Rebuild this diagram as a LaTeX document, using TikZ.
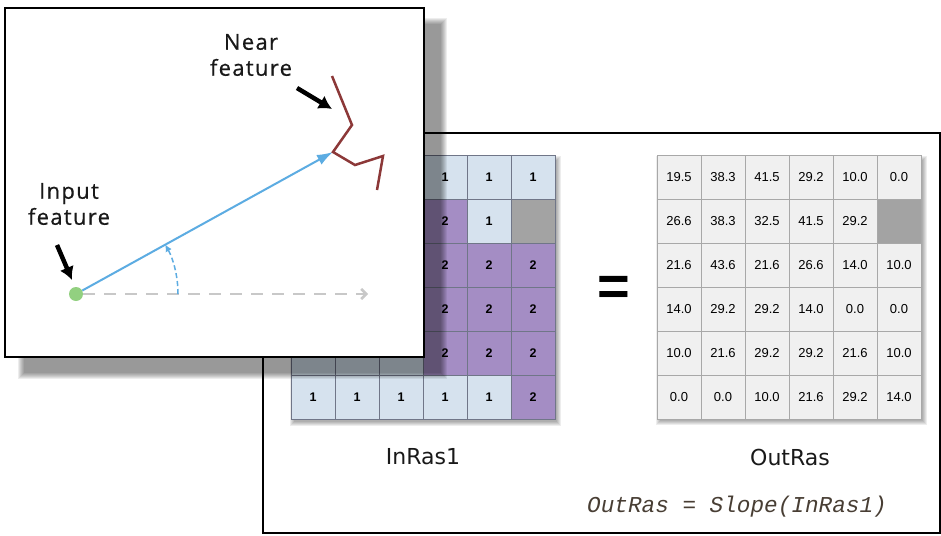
\documentclass[tikz,border=0pt]{standalone}
\usepackage{fontspec}
\setmainfont{DejaVu Sans}
\newfontfamily\featfont[LetterSpace=6,FakeBold=0.6]{Open Sans}
\newfontfamily\cellfont{Liberation Sans}
\newfontfamily\codefont{Liberation Mono}
\usetikzlibrary{positioning,arrows.meta,calc}
\definecolor{rasblue}{RGB}{214,226,238}
\definecolor{raspurple}{RGB}{164,141,196}
\definecolor{rasgray}{RGB}{163,163,163}
\definecolor{raslight}{RGB}{240,240,240}
\definecolor{inline}{RGB}{112,118,136}
\definecolor{outline}{RGB}{168,168,168}
\definecolor{vecblue}{RGB}{92,172,226}
\definecolor{featbrown}{RGB}{140,56,56}
\definecolor{dotgreen}{RGB}{146,208,128}
\definecolor{dashgray}{RGB}{200,200,200}
\definecolor{codeink}{RGB}{72,62,52}

\begin{document}
\begin{tikzpicture}[x=1pt,y=-1pt,>=Latex,
  incell/.style={draw=inline,line width=0.9pt,minimum size=44pt,inner sep=0pt,
    font=\cellfont\bfseries\fontsize{12.5}{12.5}\selectfont},
  outcell/.style={draw=outline,line width=0.9pt,fill=raslight,minimum size=44pt,inner sep=0pt,
    font=\cellfont\fontsize{13}{13}\selectfont},
  softshade/.style={fill=black,opacity=0.07},
  featlabel/.style={font=\featfont\fontsize{22}{26}\selectfont,align=center,inner sep=0pt,text=black!90},
  raslabel/.style={font=\fontsize{22}{22}\selectfont,inner sep=0pt,text=black!90},
  pointer/.style={line width=4.5pt,-{Latex[length=13pt,width=15pt]}}]
  \useasboundingbox (0,0) rectangle (941,535);

  % back panel with the two rasters
  \draw[line width=2pt,fill=white] (263,133) rectangle (940,533);
  \foreach \i in {0,...,4}{
    \fill[softshade] ({290+\i},{156+\i}) rectangle ({561-\i},{426-\i});
    \fill[softshade] ({656+\i},{156+\i}) rectangle ({927-\i},{425-\i});
  }
  \foreach \row [count=\r] in {
      {rasblue/,rasblue/,rasblue/,rasblue/1,rasblue/1,rasblue/1},
      {rasblue/,rasblue/,rasblue/,raspurple/2,rasblue/1,rasgray/},
      {rasblue/,rasblue/,rasblue/,raspurple/2,raspurple/2,raspurple/2},
      {rasblue/,rasblue/,rasblue/,raspurple/2,raspurple/2,raspurple/2},
      {rasblue/,rasblue/,rasblue/,raspurple/2,raspurple/2,raspurple/2},
      {rasblue/1,rasblue/1,rasblue/1,rasblue/1,rasblue/1,raspurple/2}}{
    \foreach \col/\val [count=\k] in \row
      \node[incell,fill=\col] (in-\r-\k) at ({269+44*\k},{133+44*\r}) {\val};
  }
  \foreach \row [count=\r] in {
      {19.5,38.3,41.5,29.2,10.0,0.0},
      {26.6,38.3,32.5,41.5,29.2},
      {21.6,43.6,21.6,26.6,14.0,10.0},
      {14.0,29.2,29.2,14.0,0.0,0.0},
      {10.0,21.6,29.2,29.2,21.6,10.0},
      {0.0,0.0,10.0,21.6,29.2,14.0}}{
    \foreach \val [count=\k] in \row
      \node[outcell] (out-\r-\k) at ({635+44*\k},{133+44*\r}) {\val};
  }
  \node[outcell,fill=rasgray] (out-2-6) at (899,221) {};

  \node[font=\cellfont\bfseries\fontsize{56}{56}\selectfont] (eq) at (614,291) {=};
  \node[raslabel] (inname) at (423,457) {InRas1};
  \node[raslabel] (outname) at (790,457) {OutRas};
  \node[font=\codefont\itshape\fontsize{22.7}{22.7}\selectfont,text=codeink,anchor=base,inner sep=0pt]
    (expr) at (737,512) {OutRas = Slope(InRas1)};

  % front panel and its shadow
  \foreach \i in {0,...,6}
    \fill[softshade] ({18+\i},{18+\i}) rectangle ({447-\i},{379-\i});
  \draw[line width=2.5pt,fill=white] (5,8) rectangle (424,357);

  \node[circle,fill=dotgreen,minimum size=14pt,inner sep=0pt] (src) at (76,294) {};
  \coordinate (hit) at (333,152);
  \coordinate (ref) at (368,294);
  \draw[dashgray,line width=2.5pt,dash pattern=on 12pt off 9pt,
    -{Straight Barb[length=5pt,width=10pt]}] (src) -- (ref);
  \draw[vecblue,line width=1.5pt,dash pattern=on 5pt off 3pt,-{Latex[length=7pt,width=7pt]}]
    ($(src)+(102,0)$) arc[start angle=0,end angle=-29,radius=102];
  \draw[vecblue,line width=2pt,-{Latex[length=16pt,width=11pt]}] (src) -- (hit);
  \draw[featbrown,line width=2.5pt] (332,76) -- (352,125) -- (hit) -- (355,165) -- (383,156) -- (377,190);

  \node[featlabel] (nearname) at (251,55) {Near\\feature};
  \node[featlabel] (srcname) at (69,204) {Input\\feature};
  \coordinate (nearTail) at (297,88);
  \coordinate (nearTip) at (332,109);
  \coordinate (srcTail) at (57,245);
  \coordinate (srcTip) at (72,280);
  \draw[pointer] (nearTail) -- (nearTip);
  \draw[pointer] (srcTail) -- (srcTip);
\end{tikzpicture}
\end{document}
